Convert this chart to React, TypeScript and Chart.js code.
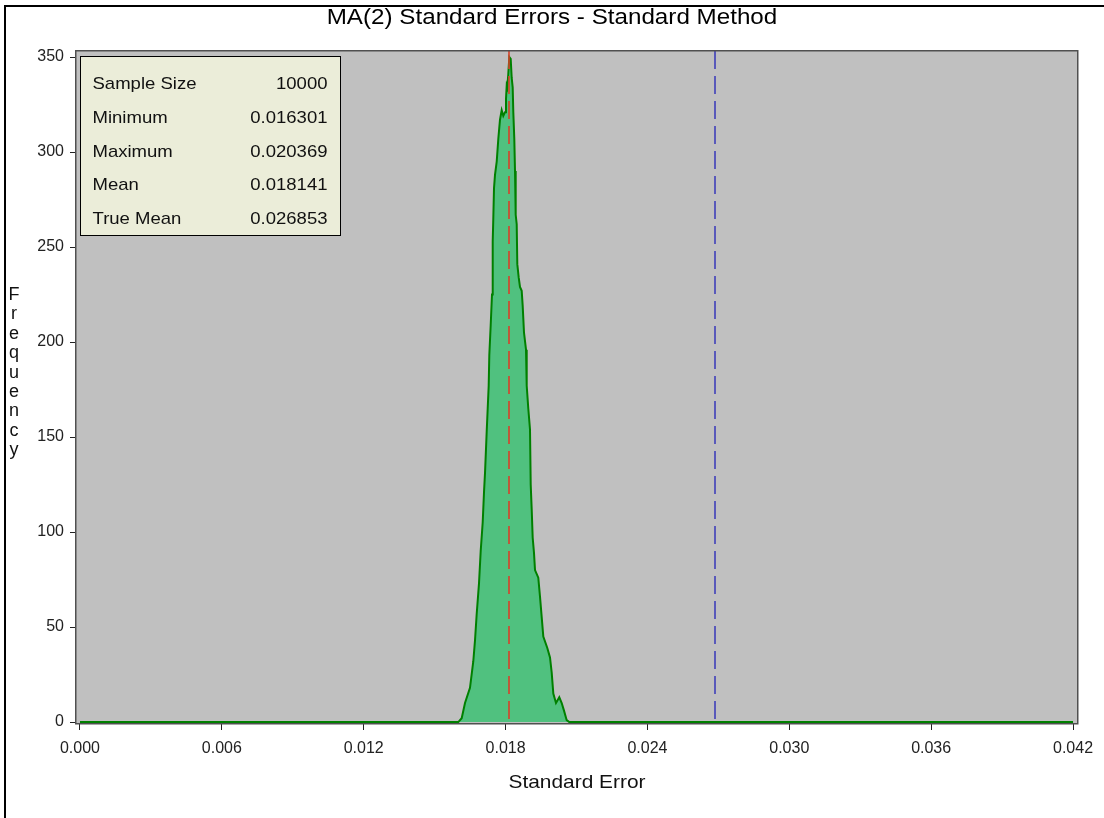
import React, { useEffect, useRef } from 'react';
import { Chart, registerables } from 'chart.js';

Chart.register(...registerables);

const chartTitle = 'MA(2) Standard Errors - Standard Method';
const xAxisTitle = 'Standard Error';
const yAxisTitle = 'Frequency';

const xTickValues = [0, 0.006, 0.012, 0.018, 0.024, 0.03, 0.036, 0.042];
const yTickValues = [0, 50, 100, 150, 200, 250, 300, 350];

const standardErrors = [
  0, 0.016, 0.016144, 0.016284, 0.016495, 0.016635, 0.016707, 0.016779, 0.016876,
  0.016948, 0.017032, 0.017088, 0.01713, 0.017202, 0.017244, 0.017286, 0.017312,
  0.017371, 0.017426, 0.017456, 0.017481, 0.017511, 0.017553, 0.017625, 0.017693,
  0.017764, 0.017836, 0.017904, 0.017976, 0.018018, 0.018048, 0.018073, 0.018115,
  0.018158, 0.018217, 0.018259, 0.018301, 0.018327, 0.018369, 0.018399, 0.018428,
  0.018471, 0.018496, 0.018555, 0.01861, 0.018682, 0.018724, 0.018779, 0.018864,
  0.018894, 0.018961, 0.019033, 0.019063, 0.019105, 0.019147, 0.019202, 0.019245,
  0.019384, 0.019456, 0.019596, 0.019765, 0.019879, 0.019951, 0.020019, 0.020133,
  0.020272, 0.020374, 0.020471, 0.020585, 0.020695, 0.042,
];
const frequencies = [
  0, 0, 2, 10, 18, 32, 43, 57, 73,
  90, 105, 121, 131, 153, 165, 177, 193,
  209, 225, 253, 265, 281, 288, 295, 307,
  317, 322, 319, 321, 328, 335, 334, 341,
  350, 349, 339, 334, 321, 307, 290, 267,
  262, 241, 234, 229, 227, 219, 205, 196,
  177, 165, 154, 125, 112, 97, 89, 80,
  76, 66, 45, 39, 34, 26, 15, 10,
  13, 10, 6, 1, 0, 0,
];

const statLabels = ['Sample Size', 'Minimum', 'Maximum', 'Mean', 'True Mean'];
const statValues = ['10000', '0.016301', '0.020369', '0.018141', '0.026853'];
const meanValue = 0.018141;
const trueMeanValue = 0.026853;

const FONT = '"Liberation Sans", Arial, Helvetica, sans-serif';

function scaledText(
  ctx: CanvasRenderingContext2D,
  text: string,
  x: number,
  y: number,
  align: CanvasTextAlign,
  k: number
) {
  ctx.save();
  ctx.scale(k, 1);
  ctx.textAlign = align;
  ctx.fillText(text, x / k, y);
  ctx.restore();
}

const decorPlugin = {
  id: 'decor',
  beforeDraw(chart: any) {
    const { ctx, chartArea } = chart;
    ctx.save();
    ctx.fillStyle = '#ffffff';
    ctx.fillRect(0, 0, chart.width, chart.height);
    ctx.fillStyle = '#C0C0C0';
    ctx.fillRect(chartArea.left, chartArea.top, chartArea.right - chartArea.left, chartArea.bottom - chartArea.top);
    ctx.restore();
  },
  afterDatasetsDraw(chart: any) {
    const { ctx, chartArea, scales } = chart;
    const xs = scales.x;
    const ys = scales.y;
    ctx.save();
    // reference lines
    const lines = [
      { v: meanValue, color: '#D8402A', w: 1.6 },
      { v: trueMeanValue, color: '#2E2EB8', w: 1.4 },
    ];
    for (const l of lines) {
      const px = Math.round(xs.getPixelForValue(l.v));
      ctx.beginPath();
      ctx.setLineDash([18, 7]);
      ctx.strokeStyle = l.color;
      ctx.lineWidth = l.w;
      ctx.moveTo(px, chartArea.top + 1);
      ctx.lineTo(px, ys.getPixelForValue(0));
      ctx.stroke();
    }
    ctx.setLineDash([]);
    // plot frame
    ctx.strokeStyle = '#505050';
    ctx.lineWidth = 1.5;
    ctx.strokeRect(chartArea.left - 0.25, chartArea.top + 0.75, chartArea.right - chartArea.left, chartArea.bottom - chartArea.top);
    // stats box
    const bx = 80.5, by = 56.5, bw = 260, bh = 179;
    ctx.fillStyle = '#EBEDD9';
    ctx.fillRect(bx, by, bw, bh);
    ctx.strokeStyle = '#000000';
    ctx.lineWidth = 1;
    ctx.strokeRect(bx, by, bw, bh);
    ctx.fillStyle = '#111111';
    ctx.font = `17px ${FONT}`;
    ctx.textBaseline = 'middle';
    for (let i = 0; i < statLabels.length; i++) {
      const y = 84.5 + i * 33.75;
      scaledText(ctx, statLabels[i], 92.5, y, 'left', 1.09);
      scaledText(ctx, statValues[i], 327.5, y, 'right', 1.09);
    }
    ctx.restore();
  },
  afterDraw(chart: any) {
    const { ctx, chartArea } = chart;
    ctx.save();
    // outer frame
    ctx.strokeStyle = '#000000';
    ctx.lineWidth = 2;
    ctx.strokeRect(5, 6, chart.width + 20, chart.height + 20);
    ctx.fillStyle = '#000000';
    // title
    ctx.font = `22px ${FONT}`;
    ctx.textBaseline = 'middle';
    scaledText(ctx, chartTitle, 552, 18, 'center', 1.1);
    // x axis title
    ctx.fillStyle = '#111111';
    ctx.font = `19px ${FONT}`;
    scaledText(ctx, xAxisTitle, (chartArea.left + chartArea.right) / 2, 783, 'center', 1.1);
    // y axis title, stacked letters
    ctx.font = `18px ${FONT}`;
    ctx.textBaseline = 'alphabetic';
    const letters = yAxisTitle.split('');
    for (let i = 0; i < letters.length; i++) {
      scaledText(ctx, letters[i], 14, 300 + i * 19.4, 'center', 1.0);
    }
    ctx.restore();
  },
};

export default function App() {
  const canvasRef = useRef<HTMLCanvasElement | null>(null);

  useEffect(() => {
    document.body.style.margin = '0';
    const canvas = canvasRef.current;
    if (!canvas) return;
    const points = standardErrors.map((x, i) => ({ x, y: frequencies[i] }));
    const chart = new Chart(canvas, {
      type: 'line',
      data: {
        datasets: [
          {
            data: points,
            borderColor: '#008000',
            borderWidth: 2,
            backgroundColor: '#50C17F',
            fill: 'origin',
            pointRadius: 0,
            tension: 0,
          },
        ],
      },
      options: {
        responsive: false,
        animation: false,
        events: [],
        layout: { padding: { top: 50, left: 0, right: 26, bottom: 0 } },
        plugins: {
          legend: { display: false },
          title: { display: false },
          tooltip: { enabled: false },
        },
        scales: {
          x: {
            type: 'linear',
            min: -0.000169,
            max: 0.042211,
            afterFit: (s: any) => {
              s.height = 95;
            },
            afterBuildTicks: (s: any) => {
              s.ticks = xTickValues.map((v) => ({ value: v }));
            },
            grid: {
              drawOnChartArea: false,
              drawTicks: true,
              tickLength: 7,
              tickColor: '#222222',
              tickWidth: 1,
            },
            border: { display: false },
            ticks: {
              color: '#222222',
              font: { family: FONT, size: 16 },
              padding: 9,
              maxRotation: 0,
              autoSkip: false,
              callback: (v: any) => Number(v).toFixed(3),
            },
          },
          y: {
            type: 'linear',
            min: -0.5,
            max: 353.7,
            afterFit: (s: any) => {
              s.width = 76;
            },
            afterBuildTicks: (s: any) => {
              s.ticks = yTickValues.map((v) => ({ value: v }));
            },
            grid: {
              drawOnChartArea: false,
              drawTicks: true,
              tickLength: 6,
              tickColor: '#222222',
              tickWidth: 1,
            },
            border: { display: false },
            ticks: {
              color: '#222222',
              font: { family: FONT, size: 16 },
              padding: 6,
              autoSkip: false,
              callback: (v: any) => String(v),
            },
          },
        },
      },
      plugins: [decorPlugin],
    });
    return () => chart.destroy();
  }, []);

  return (
    <div style={{ position: 'absolute', left: 0, top: 0, width: 1104, height: 818 }}>
      <canvas ref={canvasRef} width={1104} height={818} />
    </div>
  );
}
